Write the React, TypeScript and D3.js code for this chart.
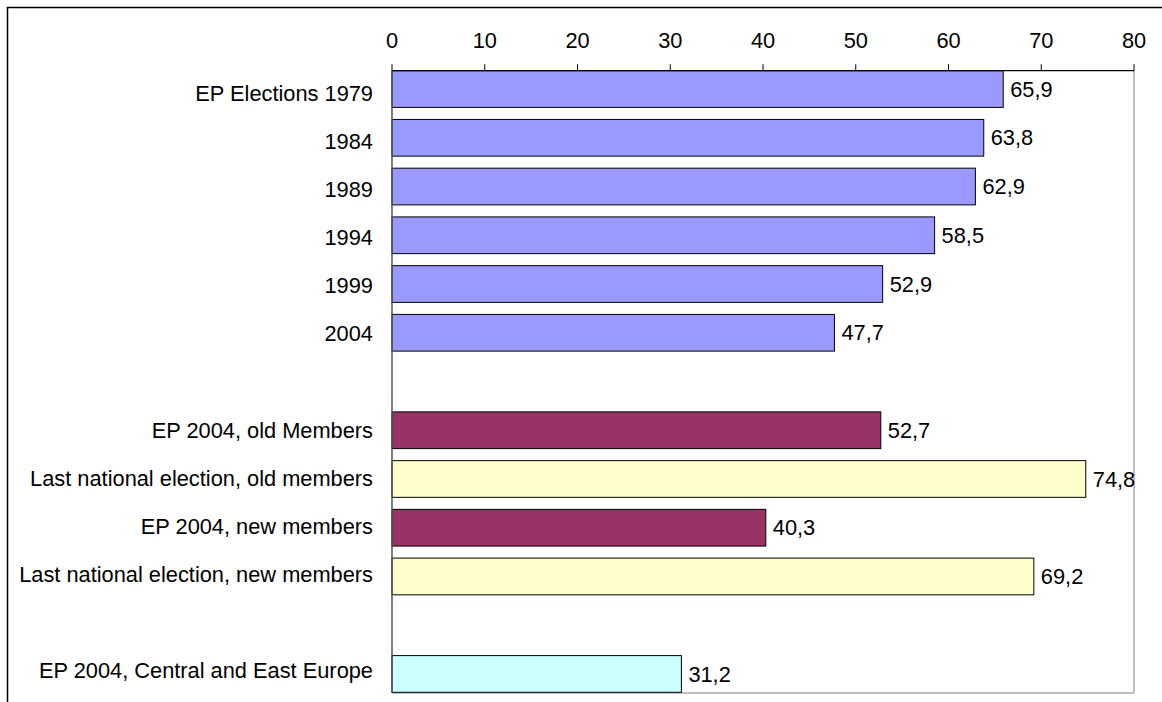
import React from "react";
import * as d3 from "d3";

const categories = [
  "EP Elections 1979",
  "1984",
  "1989",
  "1994",
  "1999",
  "2004",
  "",
  "EP 2004, old Members",
  "Last national election, old members",
  "EP 2004, new members",
  "Last national election, new members",
  " ",
  "EP 2004, Central and East Europe",
];
const values: (number | null)[] = [65.9, 63.8, 62.9, 58.5, 52.9, 47.7, null, 52.7, 74.8, 40.3, 69.2, null, 31.2];
const colors = ["#9999FF", "#9999FF", "#9999FF", "#9999FF", "#9999FF", "#9999FF", "none", "#993366", "#FFFFCC", "#993366", "#FFFFCC", "none", "#CCFFFF"];
const ticks = [0, 10, 20, 30, 40, 50, 60, 70, 80];

const W = 1162;
const H = 702;
const left = 392;
const right = 1134;
const top = 70.7;
const bottom = 693;
const FONT = "'Liberation Sans', Arial, sans-serif";
const FS = 21.8;

export default function App() {
  const x = d3.scaleLinear().domain([0, 80]).range([left, right]);
  const idx = categories.map((_, i) => String(i));
  const yBar = d3.scaleBand<string>().domain(idx).range([top, 692.3]).paddingInner(0.247).paddingOuter(0);
  const yLab = d3.scaleBand<string>().domain(idx).range([68.9, 694.6]).padding(0);
  const fmt = (v: number) => d3.format(".1f")(v).replace(".", ",");

  return (
    <svg width={W} height={H} style={{ position: "absolute", left: 0, top: 0, background: "#fff" }} fontFamily={FONT}>
      <rect x={7.5} y={7.5} width={W + 10} height={H + 10} fill="#fff" stroke="#000" strokeWidth={1.5} />
      {/* plot area border */}
      <line x1={right} x2={right} y1={top} y2={bottom} stroke="#808080" strokeWidth={1} />
      <line x1={left} x2={right} y1={bottom} y2={bottom} stroke="#808080" strokeWidth={1} />
      {/* bars */}
      {values.map((v, i) =>
        v == null ? null : (
          <g key={i}>
            <rect
              x={x(0)}
              y={yBar(String(i))!}
              width={x(v) - x(0)}
              height={yBar.bandwidth()}
              fill={colors[i]}
              stroke="#000"
              strokeWidth={1}
            />
            <text
              x={x(v) + 7}
              y={yBar(String(i))! + yBar.bandwidth() / 2}
              dy="0.35em"
              fontSize={FS}
              fill="#000"
            >
              {fmt(v)}
            </text>
          </g>
        )
      )}
      {/* category axis */}
      <line x1={left} x2={left} y1={top} y2={bottom} stroke="#555" strokeWidth={1.5} />
      {categories.map((c, i) => (
        <text
          key={i}
          x={373}
          y={yLab(String(i))! + yLab.bandwidth() / 2}
          dy="0.35em"
          textAnchor="end"
          fontSize={FS}
          fill="#000"
        >
          {c.trim()}
        </text>
      ))}
      {/* value axis on top */}
      <line x1={left} x2={right} y1={top} y2={top} stroke="#000" strokeWidth={1.2} />
      {ticks.map((t) => (
        <g key={t}>
          <line x1={x(t)} x2={x(t)} y1={top} y2={top - 6.5} stroke="#000" strokeWidth={1} />
          <text x={x(t)} y={47.5} textAnchor="middle" fontSize={FS} fill="#000">
            {t}
          </text>
        </g>
      ))}
    </svg>
  );
}
